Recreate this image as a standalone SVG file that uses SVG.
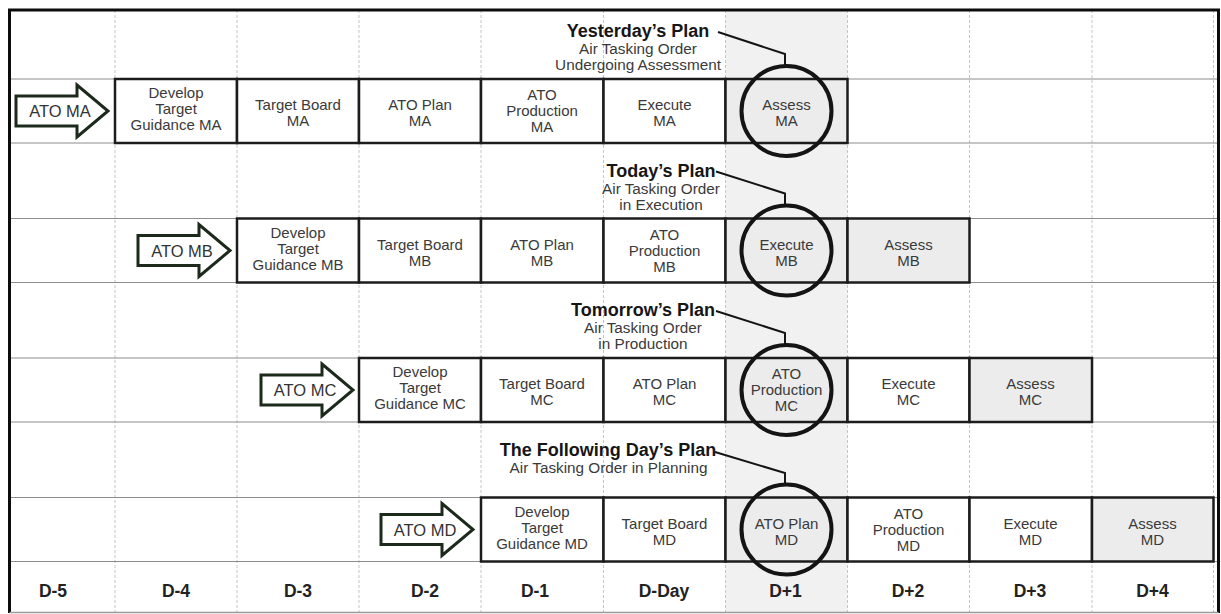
<svg xmlns="http://www.w3.org/2000/svg" width="1221" height="614" viewBox="0 0 1221 614">
  <style>
    .grid-v { stroke: #c4c4c4; stroke-width: 1; stroke-dasharray: 3 2; fill: none; }
    .grid-h { stroke: #8c8c8c; stroke-width: 1.2; fill: none; }
    .box { fill: #ffffff; stroke: #1c1c1c; stroke-width: 2.5; }
    .box.shade { fill: #ececec; }
    .btxt { font-family: "Liberation Sans", Arial, sans-serif; font-size: 15px; fill: #3a3a3a; text-anchor: middle; }
    .arrow { fill: #ffffff; stroke: #1b2a1b; stroke-width: 3; stroke-linejoin: miter; }
    .atxt { font-family: "Liberation Sans", Arial, sans-serif; font-size: 16.5px; fill: #333333; text-anchor: middle; }
    .ring { fill: none; stroke: #141414; stroke-width: 4; }
    .lead { fill: none; stroke: #141414; stroke-width: 2; }
    .title { font-family: "Liberation Sans", Arial, sans-serif; font-size: 18px; font-weight: bold; fill: #161616; text-anchor: middle; }
    .sub { font-family: "Liberation Sans", Arial, sans-serif; font-size: 15.3px; fill: #3a3a3a; text-anchor: middle; }
    .day { font-family: "Liberation Sans", Arial, sans-serif; font-size: 17.5px; font-weight: bold; fill: #222222; text-anchor: middle; }
  </style>
  <defs>
    <path id="blockArrow" d="M0,-15 H61 V-26 L92,0 L61,26 V15 H0 Z"/>
  </defs>

  <!-- page and current-day band -->
  <rect x="0" y="0" width="1221" height="614" fill="#ffffff"/>
  <rect x="725.5" y="10" width="122" height="602" fill="#f1f1f1"/>

  <!-- day grid -->
  <g id="grid">
    <path class="grid-v" d="M115,10V612 M237,10V612 M359,10V612 M481,10V612 M603.5,10V612 M725.5,10V612 M847.5,10V612 M969.5,10V612 M1092,10V612 M1213.5,10V612"/>
    <path class="grid-h" d="M10,79H1218 M10,143H1218 M10,218.5H1218 M10,282.5H1218 M10,358H1218 M10,422H1218 M10,497.5H1218 M10,561.5H1218"/>
  </g>

  <!-- cycle MA -->
  <g id="cycle-ma">
    <g id="ma-arrow"><use href="#blockArrow" class="arrow" transform="translate(16,111)"/><text class="atxt" x="60" y="117">ATO MA</text></g>
    <g id="ma-develop"><rect class="box" x="115" y="79" width="122" height="64"/><text class="btxt" x="176" y="98">Develop</text><text class="btxt" x="176" y="114">Target</text><text class="btxt" x="176" y="130">Guidance MA</text></g>
    <g id="ma-board"><rect class="box" x="237" y="79" width="122" height="64"/><text class="btxt" x="298" y="110">Target Board</text><text class="btxt" x="298" y="126">MA</text></g>
    <g id="ma-plan"><rect class="box" x="359" y="79" width="122" height="64"/><text class="btxt" x="420" y="110">ATO Plan</text><text class="btxt" x="420" y="126">MA</text></g>
    <g id="ma-production"><rect class="box" x="481" y="79" width="122.5" height="64"/><text class="btxt" x="542" y="100">ATO</text><text class="btxt" x="542" y="116">Production</text><text class="btxt" x="542" y="132">MA</text></g>
    <g id="ma-execute"><rect class="box" x="603.5" y="79" width="122" height="64"/><text class="btxt" x="664.5" y="110">Execute</text><text class="btxt" x="664.5" y="126">MA</text></g>
    <g id="ma-assess"><rect class="box shade" x="725.5" y="79" width="122" height="64"/><text class="btxt" x="786.5" y="110">Assess</text><text class="btxt" x="786.5" y="126">MA</text></g>
  </g>

  <!-- cycle MB -->
  <g id="cycle-mb">
    <g id="mb-arrow"><use href="#blockArrow" class="arrow" transform="translate(138,250.5)"/><text class="atxt" x="182" y="256.5">ATO MB</text></g>
    <g id="mb-develop"><rect class="box" x="237" y="218.5" width="122" height="64"/><text class="btxt" x="298" y="237.5">Develop</text><text class="btxt" x="298" y="253.5">Target</text><text class="btxt" x="298" y="269.5">Guidance MB</text></g>
    <g id="mb-board"><rect class="box" x="359" y="218.5" width="122" height="64"/><text class="btxt" x="420" y="249.5">Target Board</text><text class="btxt" x="420" y="265.5">MB</text></g>
    <g id="mb-plan"><rect class="box" x="481" y="218.5" width="122.5" height="64"/><text class="btxt" x="542" y="249.5">ATO Plan</text><text class="btxt" x="542" y="265.5">MB</text></g>
    <g id="mb-production"><rect class="box" x="603.5" y="218.5" width="122" height="64"/><text class="btxt" x="664.5" y="239.5">ATO</text><text class="btxt" x="664.5" y="255.5">Production</text><text class="btxt" x="664.5" y="271.5">MB</text></g>
    <g id="mb-execute"><rect class="box shade" x="725.5" y="218.5" width="122" height="64"/><text class="btxt" x="786.5" y="249.5">Execute</text><text class="btxt" x="786.5" y="265.5">MB</text></g>
    <g id="mb-assess"><rect class="box shade" x="847.5" y="218.5" width="122" height="64"/><text class="btxt" x="908.5" y="249.5">Assess</text><text class="btxt" x="908.5" y="265.5">MB</text></g>
  </g>

  <!-- cycle MC -->
  <g id="cycle-mc">
    <g id="mc-arrow"><use href="#blockArrow" class="arrow" transform="translate(261,390)"/><text class="atxt" x="305" y="396">ATO MC</text></g>
    <g id="mc-develop"><rect class="box" x="359" y="358" width="122" height="64"/><text class="btxt" x="420" y="377">Develop</text><text class="btxt" x="420" y="393">Target</text><text class="btxt" x="420" y="409">Guidance MC</text></g>
    <g id="mc-board"><rect class="box" x="481" y="358" width="122.5" height="64"/><text class="btxt" x="542" y="389">Target Board</text><text class="btxt" x="542" y="405">MC</text></g>
    <g id="mc-plan"><rect class="box" x="603.5" y="358" width="122" height="64"/><text class="btxt" x="664.5" y="389">ATO Plan</text><text class="btxt" x="664.5" y="405">MC</text></g>
    <g id="mc-production"><rect class="box shade" x="725.5" y="358" width="122" height="64"/><text class="btxt" x="786.5" y="379">ATO</text><text class="btxt" x="786.5" y="395">Production</text><text class="btxt" x="786.5" y="411">MC</text></g>
    <g id="mc-execute"><rect class="box" x="847.5" y="358" width="122" height="64"/><text class="btxt" x="908.5" y="389">Execute</text><text class="btxt" x="908.5" y="405">MC</text></g>
    <g id="mc-assess"><rect class="box shade" x="969.5" y="358" width="122.5" height="64"/><text class="btxt" x="1030.5" y="389">Assess</text><text class="btxt" x="1030.5" y="405">MC</text></g>
  </g>

  <!-- cycle MD -->
  <g id="cycle-md">
    <g id="md-arrow"><use href="#blockArrow" class="arrow" transform="translate(381,529.5)"/><text class="atxt" x="425" y="535.5">ATO MD</text></g>
    <g id="md-develop"><rect class="box" x="481" y="497.5" width="122.5" height="64"/><text class="btxt" x="542" y="516.5">Develop</text><text class="btxt" x="542" y="532.5">Target</text><text class="btxt" x="542" y="548.5">Guidance MD</text></g>
    <g id="md-board"><rect class="box" x="603.5" y="497.5" width="122" height="64"/><text class="btxt" x="664.5" y="528.5">Target Board</text><text class="btxt" x="664.5" y="544.5">MD</text></g>
    <g id="md-plan"><rect class="box shade" x="725.5" y="497.5" width="122" height="64"/><text class="btxt" x="786.5" y="528.5">ATO Plan</text><text class="btxt" x="786.5" y="544.5">MD</text></g>
    <g id="md-production"><rect class="box" x="847.5" y="497.5" width="122" height="64"/><text class="btxt" x="908.5" y="518.5">ATO</text><text class="btxt" x="908.5" y="534.5">Production</text><text class="btxt" x="908.5" y="550.5">MD</text></g>
    <g id="md-execute"><rect class="box" x="969.5" y="497.5" width="122.5" height="64"/><text class="btxt" x="1030.5" y="528.5">Execute</text><text class="btxt" x="1030.5" y="544.5">MD</text></g>
    <g id="md-assess"><rect class="box shade" x="1092" y="497.5" width="121.5" height="64"/><text class="btxt" x="1152.5" y="528.5">Assess</text><text class="btxt" x="1152.5" y="544.5">MD</text></g>
  </g>

  <!-- current-day highlight rings -->
  <g id="rings">
    <circle id="ring-ma" class="ring" cx="786.5" cy="111" r="45"/>
    <circle id="ring-mb" class="ring" cx="786.5" cy="250.5" r="45"/>
    <circle id="ring-mc" class="ring" cx="786.5" cy="390" r="45"/>
    <circle id="ring-md" class="ring" cx="786.5" cy="529.5" r="45"/>
  </g>

  <!-- leader lines from plan labels to rings -->
  <g id="connectors">
    <path class="lead" d="M718,32 L785,54 V66"/>
    <path class="lead" d="M716,171.5 L785,193.5 V205.5"/>
    <path class="lead" d="M716,311 L785,333 V345"/>
    <path class="lead" d="M715,452 L785,473 V484.5"/>
  </g>

  <!-- plan labels -->
  <g id="label-yesterday">
    <text class="title" x="638" y="37">Yesterday’s Plan</text>
    <text class="sub" x="638" y="54">Air Tasking Order</text>
    <text class="sub" x="638" y="69.5">Undergoing Assessment</text>
  </g>
  <g id="label-today">
    <text class="title" x="661" y="176.5">Today’s Plan</text>
    <text class="sub" x="661" y="194">Air Tasking Order</text>
    <text class="sub" x="661" y="209.5">in Execution</text>
  </g>
  <g id="label-tomorrow">
    <text class="title" x="643" y="316">Tomorrow’s Plan</text>
    <text class="sub" x="643" y="333">Air Tasking Order</text>
    <text class="sub" x="643" y="348.5">in Production</text>
  </g>
  <g id="label-following">
    <text class="title" x="608" y="456">The Following Day’s Plan</text>
    <text class="sub" x="608.5" y="473">Air Tasking Order in Planning</text>
  </g>

  <!-- day axis -->
  <g id="day-axis">
    <text class="day" x="53" y="597">D-5</text>
    <text class="day" x="176" y="597">D-4</text>
    <text class="day" x="298" y="597">D-3</text>
    <text class="day" x="425" y="597">D-2</text>
    <text class="day" x="535" y="597">D-1</text>
    <text class="day" x="664" y="597">D-Day</text>
    <text class="day" x="785.5" y="597">D+1</text>
    <text class="day" x="908" y="597">D+2</text>
    <text class="day" x="1030" y="597">D+3</text>
    <text class="day" x="1152.5" y="597">D+4</text>
  </g>

  <!-- frame -->
  <path d="M9.5,613V10H1218.5V613" fill="none" stroke="#0c0c0c" stroke-width="3"/>
  <line x1="9.5" y1="612.5" x2="1218.5" y2="612.5" stroke="#9a9a9a" stroke-width="1.5"/>
</svg>
